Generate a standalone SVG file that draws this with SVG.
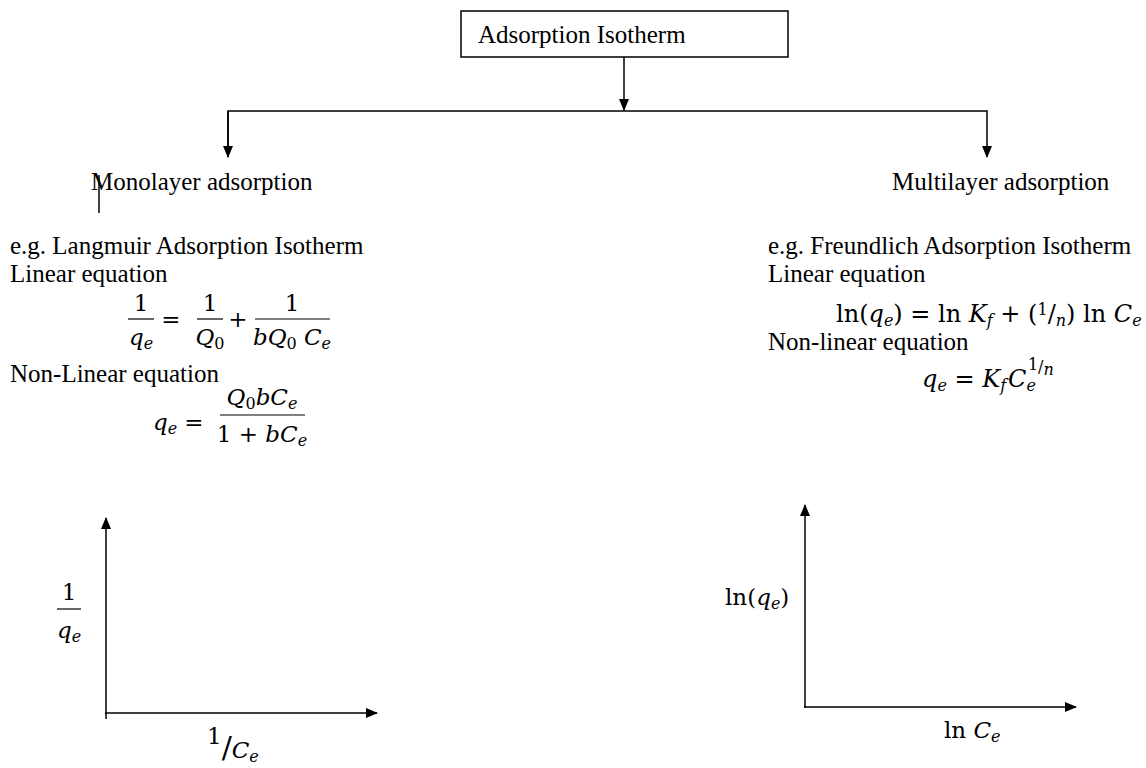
<svg xmlns="http://www.w3.org/2000/svg" width="1146" height="768" viewBox="0 0 1146 768">
<style>
.t{font-family:"Liberation Serif","Times New Roman",serif;font-size:25px;fill:#000}
.m{font-family:"DejaVu Serif","Liberation Serif",serif;font-size:23px;fill:#000}
.m2{font-size:24px}
.i{font-style:italic}
.s{font-size:16px}
.ln{stroke:#000;stroke-width:1.5;fill:none}
.fr{stroke:#000;stroke-width:1.2}
</style>
<defs>
<marker id="ah" markerWidth="12" markerHeight="12" refX="11" refY="6" orient="auto" markerUnits="userSpaceOnUse">
<path d="M0,1 L12,6 L0,11 Z" fill="#000"/>
</marker>
</defs>
<rect width="1146" height="768" fill="#fff"/>

<g id="root">
<rect x="461" y="11" width="327" height="46" fill="#fff" stroke="#000" stroke-width="1.5"/>
<text class="t" x="478" y="43">Adsorption Isotherm</text>
</g>

<g id="connectors">
<line class="ln" x1="624" y1="57" x2="624" y2="110" marker-end="url(#ah)"/>
<polyline class="ln" points="228,157 228,111 987,111 987,157" marker-end="url(#ah)"/>
<line class="ln" x1="228" y1="111" x2="228" y2="157" marker-end="url(#ah)"/>
<line class="ln" x1="99" y1="175" x2="99" y2="213"/>
</g>

<g id="mono">
<text class="t" x="91" y="190">Monolayer adsorption</text>
</g>

<g id="multi">
<text class="t" x="892" y="190">Multilayer adsorption</text>
</g>

<g id="langmuir">
<text class="t" x="10" y="254">e.g. Langmuir Adsorption Isotherm</text>
<text class="t" x="10" y="282">Linear equation</text>
<text class="m" x="141" y="311" text-anchor="middle">1</text>
<line class="fr" x1="128" y1="319" x2="154" y2="319"/>
<text class="m" x="141" y="345" text-anchor="middle"><tspan class="i">q</tspan><tspan class="s i" dy="4">e</tspan></text>
<text class="m" x="171" y="327" text-anchor="middle">=</text>
<text class="m" x="210" y="311" text-anchor="middle">1</text>
<line class="fr" x1="197" y1="319" x2="223" y2="319"/>
<text class="m" x="210" y="345" text-anchor="middle"><tspan class="i">Q</tspan><tspan class="s" dy="4">0</tspan></text>
<text class="m" x="238" y="327" text-anchor="middle">+</text>
<text class="m" x="292" y="311" text-anchor="middle">1</text>
<line class="fr" x1="255" y1="319" x2="330" y2="319"/>
<text class="m" x="292" y="345" text-anchor="middle"><tspan class="i">bQ</tspan><tspan class="s" dy="4">0</tspan><tspan class="i" dy="-4"> C</tspan><tspan class="s i" dy="4">e</tspan></text>
<text class="t" x="10" y="382">Non-Linear equation</text>
<text class="m" x="153" y="430"><tspan class="i">q</tspan><tspan class="s i" dy="4">e</tspan></text>
<text class="m" x="194" y="430" text-anchor="middle">=</text>
<text class="m" x="262" y="405" text-anchor="middle"><tspan class="i">Q</tspan><tspan class="s" dy="4">0</tspan><tspan class="i" dy="-4">bC</tspan><tspan class="s i" dy="4">e</tspan></text>
<line class="fr" x1="220" y1="415" x2="305" y2="415"/>
<text class="m" x="262" y="442" text-anchor="middle">1 + <tspan class="i">bC</tspan><tspan class="s i" dy="4">e</tspan></text>
</g>

<g id="freundlich">
<text class="t" x="768" y="254">e.g. Freundlich Adsorption Isotherm</text>
<text class="t" x="768" y="282">Linear equation</text>
<text class="m m2" x="836" y="322">ln(<tspan class="i">q</tspan><tspan class="s i" dy="4">e</tspan><tspan dy="-4">) = ln </tspan><tspan class="i">K</tspan><tspan class="s i" dy="4">f</tspan><tspan dy="-4"> + (</tspan><tspan class="s" dy="-7">1</tspan><tspan dy="7">/</tspan><tspan class="s i" dy="4">n</tspan><tspan dy="-4">) ln </tspan><tspan class="i">C</tspan><tspan class="s i" dy="4">e</tspan></text>
<text class="t" x="768" y="350">Non-linear equation</text>
<text class="m m2" x="922" y="387"><tspan class="i">q</tspan><tspan class="s i" dy="4">e</tspan><tspan dy="-4"> = </tspan><tspan class="i">K</tspan><tspan class="s i" dy="4">f</tspan><tspan class="i" dy="-4" dx="2">C</tspan><tspan class="s i" dy="4">e</tspan><tspan class="s" dy="-21" dx="-8">1</tspan><tspan class="s" dy="2">/</tspan><tspan class="s i" dy="3">n</tspan></text>
</g>

<g id="graph-left">
<line class="ln" x1="106" y1="719" x2="106" y2="518" marker-end="url(#ah)"/>
<line class="ln" x1="105" y1="713" x2="377" y2="713" marker-end="url(#ah)"/>
<text class="m" x="69" y="600" text-anchor="middle">1</text>
<line class="fr" x1="57" y1="609" x2="81" y2="609"/>
<text class="m" x="69" y="638" text-anchor="middle"><tspan class="i">q</tspan><tspan class="s i" dy="4">e</tspan></text>
<text class="m" x="207" y="758"><tspan dy="-14">1</tspan><tspan dy="14" font-size="30">/</tspan><tspan class="i">C</tspan><tspan class="s i" dy="4">e</tspan></text>
</g>

<g id="graph-right">
<line class="ln" x1="805" y1="708" x2="805" y2="505" marker-end="url(#ah)"/>
<line class="ln" x1="804" y1="707" x2="1076" y2="707" marker-end="url(#ah)"/>
<text class="m" x="725" y="605">ln(<tspan class="i">q</tspan><tspan class="s i" dy="4">e</tspan><tspan dy="-4">)</tspan></text>
<text class="m" x="944" y="738">ln <tspan class="i">C</tspan><tspan class="s i" dy="4">e</tspan></text>
</g>
</svg>
